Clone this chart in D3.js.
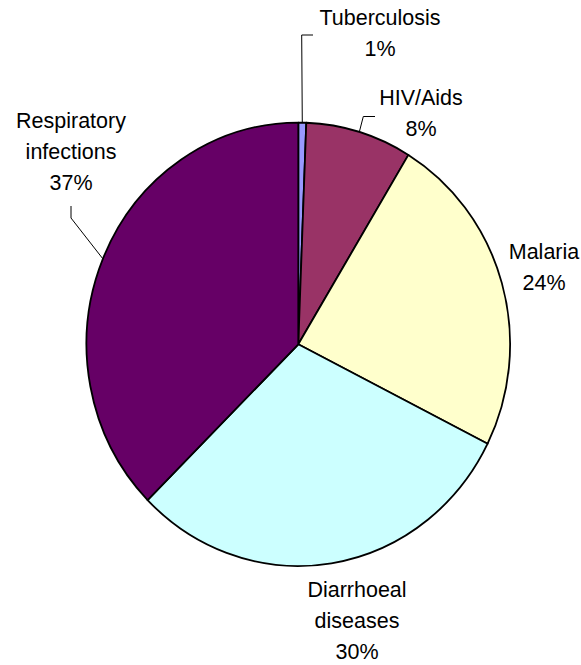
<!DOCTYPE html>
<html>
<head>
<meta charset="utf-8">
<script src="https://cdn.jsdelivr.net/npm/d3@7"></script>
<style>
  body { margin: 0; background: #fff; }
  text { font-family: "Liberation Sans", Arial, sans-serif; font-size: 21.5px; fill: #000; }
</style>
</head>
<body>
<script>

    var width = 581,
        height = 665;

    // Data (shares in %, clockwise from 12 o'clock)
    var categories = ["Tuberculosis", "HIV/Aids", "Malaria", "Diarrhoeal diseases", "Respiratory infections"];
    var values = [0.6, 8.1, 23.7, 30.2, 37.4];
    var labels = ["1%", "8%", "24%", "30%", "37%"];
    var colors = ["#9999FF", "#993366", "#FFFFCC", "#CCFFFF", "#660066"];

    // label lines (text broken in the picture) and where they sit
    var labelLines = [["Tuberculosis"], ["HIV/Aids"], ["Malaria"], ["Diarrhoeal", "diseases"], ["Respiratory", "infections"]];
    var labelPos = [[380, 25], [421, 105], [544, 259], [357, 597], [71, 128]];
    var lineHeight = 31;

    // leader lines: elbow and end point (null = no leader)
    var leaders = [
        [[301.7, 35], [313, 35]],
        [[363.3, 116.5], [375, 116.5]],
        null,
        null,
        [[71, 218], [71, 206]]
    ];

    var cx = 298.3, cy = 344.3,
        ry = 221.7, rx = 211.8;

    var data = categories.map(function(c, i) { return {name: c, value: values[i]}; });

    var svg = d3.select("body")
    .append("svg")
    .attr("width", width)
    .attr("height", height);

    var pie = d3.pie()
    .value(function(d) { return d.value; })
    .sort(null);

    var arc = d3.arc()
    .innerRadius(0)
    .outerRadius(ry);

    var arcs = pie(data);

    // the pie is slightly squeezed horizontally in the picture
    var g = svg.append("g")
    .attr("transform", "translate(" + cx + "," + cy + ") scale(" + (rx / ry) + ",1)");

    g.selectAll("path")
    .data(arcs)
    .enter().append("path")
    .attr("d", arc)
    .attr("fill", function(d, i) { return colors[i]; })
    .attr("stroke", "#000")
    .attr("stroke-width", 1.8)
    .attr("stroke-linejoin", "round")
    .attr("vector-effect", "non-scaling-stroke");

    // point on the rim at a slice's middle angle
    function rimPoint(d) {
        var a = (d.startAngle + d.endAngle) / 2;
        return [cx + rx * Math.sin(a), cy - ry * Math.cos(a)];
    }

    // Leader lines
    svg.selectAll(".leader")
    .data(arcs.filter(function(d, i) { return leaders[i]; }))
    .enter().append("polyline")
    .attr("class", "leader")
    .attr("points", function(d) {
        var p = [rimPoint(d)].concat(leaders[d.index]);
        return p.map(function(q) { return q.join(","); }).join(" ");
    })
    .attr("fill", "none")
    .attr("stroke", "#000")
    .attr("stroke-width", 1);

    // Labels, one text per line, a touch taller than wide like the picture
    var lab = svg.selectAll(".label")
    .data(arcs)
    .enter().append("g")
    .attr("class", "label");

    lab.each(function(d, i) {
        var t = d3.select(this);
        var lines = labelLines[i].concat([labels[i]]);
        lines.forEach(function(s, k) {
            t.append("text")
            .attr("transform", "translate(" + labelPos[i][0] + "," + (labelPos[i][1] + k * lineHeight) + ") scale(1,1.06)")
            .attr("text-anchor", "middle")
            .text(s);
        });
    });

</script>
</body>
</html>
